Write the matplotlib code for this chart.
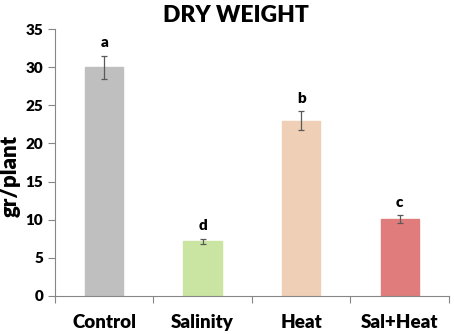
import matplotlib.pyplot as plt
import numpy as np

categories = ["Control", "Salinity", "Heat", "Sal+Heat"]
dry_weight = [30.0, 7.15, 23.0, 10.05]
errors = [1.5, 0.38, 1.2, 0.5]
letters = ["a", "d", "b", "c"]
colors = ["#BFBFBF", "#C9E5A1", "#EFD0B6", "#E07C7C"]

plt.rcParams['font.family'] = ['Lato', 'DejaVu Sans']
W = 'heavy'

fig = plt.figure(figsize=(4.54, 3.34), dpi=100)
ax = fig.add_axes([0.121, 0.114, 0.868, 0.799])

x = np.arange(len(categories))
ax.bar(x, dry_weight, width=0.39, color=colors, edgecolor=colors, zorder=2)
ax.errorbar(x, dry_weight, yerr=errors, fmt='none', ecolor='#595959',
            elinewidth=0.9, capsize=2, capthick=0.9, zorder=3)

for xi, v, e, l in zip(x, dry_weight, errors, letters):
    ax.text(xi, v + e + 0.9, l, ha='center', va='bottom', fontsize=11,
            fontweight=W)

ax.set_xlim(-0.5, 3.5)
ax.set_ylim(0, 35)
ax.set_yticks(range(0, 36, 5))
ax.set_xticks(np.arange(-0.5, 4, 1))
ax.set_xticklabels([])
ax.set_xticks(x, minor=True)
ax.set_xticklabels(categories, minor=True, fontsize=13.5, fontweight=W)
ax.tick_params(axis='x', which='minor', length=0, pad=13)
ax.tick_params(axis='x', which='major', length=5, color='#868686')
ax.tick_params(axis='y', length=5, color='#868686', labelsize=11)
for lab in ax.get_yticklabels():
    lab.set_fontweight(W)

for s in ['top', 'right']:
    ax.spines[s].set_visible(False)
for s in ['left', 'bottom']:
    ax.spines[s].set_color('#868686')

ax.set_ylabel("gr/plant", fontsize=16, fontweight=W)
ax.yaxis.set_label_coords(-0.088, 0.45)
fig.text(236 / 454, 1 - 16 / 334, "DRY WEIGHT", ha='center', va='center',
         fontsize=16.5, fontweight=W)

fig.savefig("out.png", dpi=100)
